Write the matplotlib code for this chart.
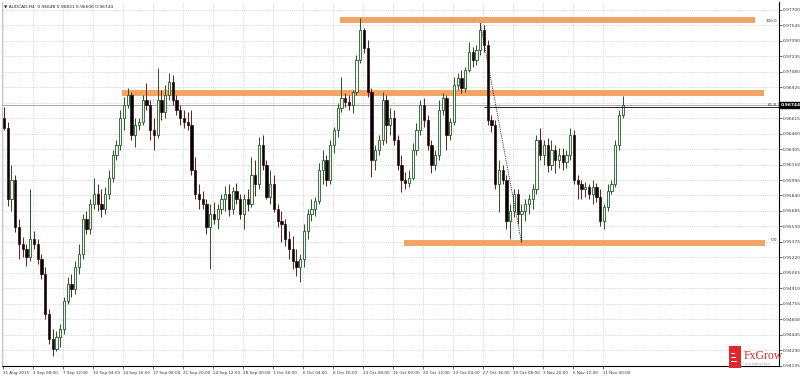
import numpy as np
import matplotlib
matplotlib.use("Agg")
import matplotlib.pyplot as plt
from matplotlib.patches import Rectangle
from matplotlib.transforms import blended_transform_factory

# chart header
title = "\u25bc AUDCAD,H4  0.96648 0.96831 0.96606 0.96744"

# candle data (8h steps)
opens = [
    .9662, .9652, .9580, .9600, .9552, .9535, .9530, .9522, .9540, .9535,
    .9520, .9505, .9465, .9440, .9430, .9442, .9450, .9478, .9495, .9490,
    .9512, .9525, .9560, .9550, .9575, .9585, .9575, .9570, .9585, .9602,
    .9625, .9635, .9662, .9675, .9685, .9645, .9655, .9658, .9680, .9675,
    .9650, .9645, .9680, .9668, .9685, .9698, .9680, .9670, .9662, .9658,
    .9655, .9610, .9585, .9580, .9575, .9552, .9565, .9560, .9570, .9580,
    .9585, .9570, .9588, .9580, .9565, .9580, .9575, .9605, .9595, .9635,
    .9615, .9582, .9595, .9570, .9558, .9555, .9540, .9530, .9518, .9512,
    .9520, .9548, .9565, .9570, .9578, .9610, .9620, .9600, .9635, .9650,
    .9672, .9682, .9678, .9675, .9688, .9720, .9750, .9732, .9688, .9620,
    .9630, .9640, .9680, .9655, .9662, .9640, .9615, .9600, .9597, .9602,
    .9630, .9650, .9675, .9660, .9635, .9615, .9625, .9670, .9682, .9645,
    .9658, .9695, .9702, .9692, .9710, .9728, .9720, .9730, .9750, .9735,
    .9660, .9655, .9595, .9610, .9600, .9558, .9568, .9585, .9565, .9568,
    .9575, .9580, .9590, .9640, .9625, .9635, .9615, .9630, .9620, .9625,
    .9618, .9625, .9645, .9600, .9595, .9590, .9592, .9585, .9592, .9582,
    .9558, .9572, .9588, .9595, .9635, .9665,
]
highs = [
    .9673, .9658, .9615, .9605, .9560, .9542, .9535, .9590, .9548, .9540,
    .9525, .9512, .9470, .9450, .9448, .9455, .9482, .9502, .9505, .9518,
    .9535, .9565, .9568, .9580, .9602, .9595, .9590, .9592, .9610, .9630,
    .9640, .9670, .9683, .9692, .9688, .9662, .9662, .9685, .9697, .9680,
    .9662, .9712, .9690, .9695, .9707, .9705, .9685, .9675, .9670, .9668,
    .9670, .9623, .9595, .9588, .9580, .9575, .9577, .9575, .9585, .9593,
    .9595, .9592, .9597, .9585, .9585, .9590, .9623, .9620, .9643, .9645,
    .9620, .9610, .9605, .9575, .9568, .9560, .9548, .9543, .9530, .9525,
    .9555, .9570, .9580, .9582, .9617, .9630, .9625, .9640, .9653, .9677,
    .9703, .9687, .9685, .9690, .9725, .9762, .9752, .9740, .9692, .9635,
    .9645, .9688, .9685, .9672, .9670, .9645, .9625, .9608, .9610, .9637,
    .9657, .9680, .9682, .9665, .9640, .9630, .9680, .9687, .9685, .9662,
    .9703, .9707, .9710, .9713, .9738, .9733, .9735, .9757, .9755, .9740,
    .9665, .9660, .9620, .9615, .9605, .9575, .9590, .9590, .9575, .9580,
    .9585, .9595, .9645, .9652, .9640, .9642, .9640, .9635, .9632, .9632,
    .9630, .9652, .9650, .9605, .9600, .9598, .9595, .9600, .9597, .9590,
    .9575, .9595, .9600, .9640, .9670, .9684,
]
lows = [
    .9650, .9573, .9568, .9547, .9520, .9522, .9513, .9518, .9530, .9515,
    .9500, .9460, .9435, .9423, .9428, .9432, .9445, .9475, .9482, .9485,
    .9505, .9520, .9545, .9545, .9570, .9568, .9562, .9565, .9580, .9598,
    .9620, .9630, .9650, .9672, .9640, .9633, .9650, .9655, .9670, .9640,
    .9630, .9642, .9660, .9662, .9680, .9675, .9665, .9655, .9652, .9650,
    .9605, .9580, .9570, .9570, .9545, .9510, .9555, .9550, .9565, .9568,
    .9563, .9565, .9575, .9560, .9550, .9568, .9572, .9583, .9590, .9610,
    .9580, .9575, .9567, .9552, .9537, .9533, .9520, .9510, .9503, .9497,
    .9512, .9540, .9558, .9563, .9575, .9595, .9593, .9595, .9627, .9643,
    .9668, .9673, .9670, .9667, .9685, .9717, .9727, .9683, .9603, .9610,
    .9625, .9635, .9637, .9645, .9635, .9610, .9587, .9590, .9592, .9600,
    .9625, .9645, .9653, .9630, .9607, .9610, .9620, .9665, .9630, .9640,
    .9655, .9690, .9687, .9688, .9708, .9713, .9715, .9725, .9728, .9655,
    .9648, .9590, .9567, .9595, .9550, .9540, .9562, .9555, .9537, .9558,
    .9565, .9570, .9585, .9620, .9615, .9608, .9610, .9607, .9612, .9610,
    .9612, .9620, .9595, .9580, .9580, .9582, .9580, .9575, .9577, .9553,
    .9550, .9568, .9585, .9592, .9630, .9662,
]
closes = [
    .9652, .9580, .9600, .9552, .9535, .9530, .9522, .9540, .9535, .9520,
    .9505, .9465, .9440, .9430, .9442, .9450, .9478, .9495, .9490, .9512,
    .9525, .9560, .9550, .9575, .9585, .9575, .9570, .9585, .9602, .9625,
    .9635, .9662, .9675, .9685, .9645, .9655, .9658, .9680, .9675, .9650,
    .9645, .9680, .9668, .9685, .9698, .9680, .9670, .9662, .9658, .9655,
    .9610, .9585, .9580, .9575, .9552, .9565, .9560, .9570, .9580, .9585,
    .9570, .9588, .9580, .9565, .9580, .9575, .9605, .9595, .9635, .9615,
    .9582, .9595, .9570, .9558, .9555, .9540, .9530, .9518, .9512, .9520,
    .9548, .9565, .9570, .9578, .9610, .9620, .9600, .9635, .9650, .9672,
    .9682, .9678, .9675, .9688, .9720, .9750, .9732, .9688, .9620, .9630,
    .9640, .9680, .9655, .9662, .9640, .9615, .9600, .9597, .9602, .9630,
    .9650, .9675, .9660, .9635, .9615, .9625, .9670, .9682, .9645, .9658,
    .9695, .9702, .9692, .9710, .9728, .9720, .9730, .9750, .9735, .9660,
    .9655, .9595, .9610, .9600, .9558, .9568, .9585, .9565, .9568, .9575,
    .9580, .9590, .9640, .9625, .9635, .9615, .9630, .9620, .9625, .9618,
    .9625, .9645, .9600, .9595, .9590, .9592, .9585, .9592, .9582, .9558,
    .9572, .9588, .9595, .9635, .9665, .96744,
]

time_labels = ["31 Aug 2015", "3 Sep 08:00", "7 Sep 12:00", "10 Sep 04:00",
               "14 Sep 16:00", "17 Sep 08:00", "21 Sep 20:00", "24 Sep 12:00",
               "28 Sep 00:00", "1 Oct 16:00", "6 Oct 04:00", "8 Oct 20:00",
               "13 Oct 08:00", "16 Oct 00:00", "20 Oct 12:00", "23 Oct 04:00",
               "27 Oct 16:00", "30 Oct 08:00", "3 Nov 20:00", "6 Nov 12:00",
               "11 Nov 00:00"]
bars_per_label = 8

price_ticks = [0.97700, 0.97545, 0.97390, 0.97235, 0.97080, 0.96925, 0.96770,
               0.96615, 0.96460, 0.96305, 0.96150, 0.95995, 0.95840, 0.95685,
               0.95530, 0.95375, 0.95220, 0.95065, 0.94910, 0.94755, 0.94600,
               0.94445, 0.94290, 0.94135]

# support / resistance zones drawn by hand on the chart
zone_levels = [0.9760, 0.9687, 0.9536]
zone_start = [89.6, 31.5, 106.7]
zone_end = [200.3, 202.7, 203.0]

# fibonacci retracement anchors (bar indexes)
fib_high_bar = 127
fib_low_bar = 138
fib_ratios = [100.0, 61.8, 0.0]

orange = "#f1a466"
up_edge = "#1f5a22"
dn_edge = "#6e1a1a"

fig = plt.figure(figsize=(8, 3.76), dpi=100)
fig.patch.set_facecolor("white")
ax = fig.add_axes([2 / 800, 10 / 376, 777 / 800, 364 / 376])

o = np.array(opens)
h = np.array(highs)
l = np.array(lows)
c = np.array(closes)
x = np.arange(len(c))
up = c >= o

# grid
for k in range(len(time_labels)):
    ax.axvline(k * bars_per_label - 0.25, color="#c9c9c9", lw=0.5, ls=(0, (1.5, 1.5)), zorder=0)
for p in price_ticks:
    ax.axhline(p, color="#c9c9c9", lw=0.5, ls=(0, (1.5, 1.5)), zorder=0)

# orange zones
for lvl, x0, x1 in zip(zone_levels, zone_start, zone_end):
    ax.hlines(lvl, x0, x1, color=orange, lw=4.3, zorder=1)

# candles
body_lo = np.minimum(o, c)
body_h = np.maximum(np.abs(c - o), 0.00004)
ax.vlines(x[up], l[up], h[up], color=up_edge, lw=0.7, zorder=3)
ax.vlines(x[~up], l[~up], h[~up], color=dn_edge, lw=0.7, zorder=3)
ax.bar(x[up], body_h[up], width=0.6, bottom=body_lo[up], color="#f4f4f4",
       edgecolor=up_edge, linewidth=0.6, zorder=4)
ax.bar(x[~up], body_h[~up], width=0.6, bottom=body_lo[~up], color="black",
       edgecolor="#2a0e0e", linewidth=0.5, zorder=4)

xmin, xmax = -0.533, 206.67
ax.set_xlim(xmin, xmax)
ax.set_ylim(0.94130, 0.97780)

# bid line
last = closes[-1]
ax.axhline(last, color="#9a9a9a", lw=0.6, zorder=2)

# fibonacci
fhi = highs[fib_high_bar]
flo = lows[fib_low_bar]
ax.plot([fib_high_bar, fib_low_bar], [fhi, flo], color="black", lw=0.6,
        ls=(0, (1, 1.2)), zorder=5)
for r in fib_ratios:
    lvl = flo + (fhi - flo) * r / 100.0
    if 0 < r < 100:
        ax.hlines(lvl, fib_high_bar + 1, xmax, color="#222222", lw=0.7, zorder=5)
    ax.text(xmax - 0.5, lvl, f"{r:.1f}", fontsize=3, color="#333333",
            ha="right", va="bottom", zorder=6)

# axes styling (the label under the price box is hidden, as in the terminal)
ax.yaxis.tick_right()
ax.set_yticks(price_ticks)
ax.set_yticklabels(["" if abs(p - last) < 0.0005 else f"{p:.5f}" for p in price_ticks])
ax.set_xticks([k * bars_per_label - 0.25 for k in range(len(time_labels))])
ax.set_xticklabels(time_labels)
for lab in ax.get_xticklabels():
    lab.set_horizontalalignment("left")
ax.tick_params(axis="y", labelsize=3.2, length=2, width=0.5, pad=1, colors="#333333")
ax.tick_params(axis="x", labelsize=3.0, length=2, width=0.5, pad=1.5, colors="#333333")
ax.spines["top"].set_visible(False)
ax.spines["left"].set_color("#bbbbbb")
ax.spines["left"].set_linewidth(0.6)
ax.spines["right"].set_linewidth(0.8)
ax.spines["bottom"].set_linewidth(0.8)

# current price box
tr = blended_transform_factory(ax.transAxes, ax.transData)
ax.text(1.002, last, f"{last:.5f}", transform=tr, fontsize=3.2, color="white",
        fontweight="bold", ha="left", va="center", clip_on=False, zorder=10,
        bbox=dict(boxstyle="square,pad=0.25", fc="black", ec="black"))

fig.text(4 / 800, 1 - 6 / 376, title, fontsize=3.2, color="#222222", va="center")

# logo
fig.patches.append(Rectangle((729 / 800, 8 / 376), 12 / 800, 22 / 376,
                             transform=fig.transFigure, fc="#e0262e", ec="none", zorder=20))
for i, w in enumerate([6, 5, 4]):
    fig.patches.append(Rectangle((731 / 800, (14 + i * 4) / 376), w / 800, 1.2 / 376,
                                 transform=fig.transFigure, fc="white", ec="none", zorder=21))
fig.text(744 / 800, 20 / 376, "FxGrow", fontsize=8.5, color="#d9252d",
         family="Liberation Serif", va="center", ha="left", zorder=21)
fig.text(745 / 800, 12 / 376, "forex trading broker", fontsize=1.8, color="#999999",
         va="center", ha="left", zorder=21)

plt.savefig("out.png", dpi=100)
